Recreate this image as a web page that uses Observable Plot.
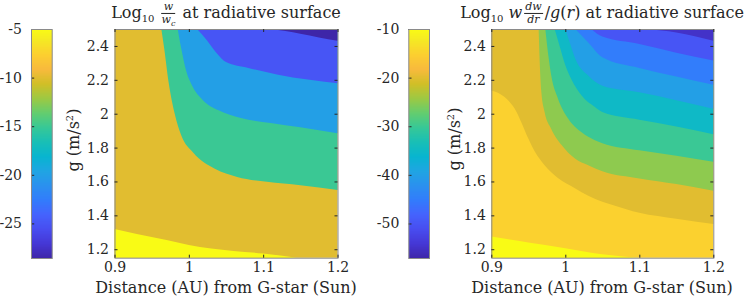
<!DOCTYPE html>
<html><head><meta charset="utf-8">
<script src="https://cdn.jsdelivr.net/npm/d3@7"></script>
<script src="https://cdn.jsdelivr.net/npm/@observablehq/plot@0.6"></script>
<style>
body{margin:0;background:#fff;}
#c{position:relative;width:748px;height:307px;overflow:hidden;font-family:"DejaVu Serif",serif;color:#262626;}
.abs{position:absolute;}
.ctr{transform:translate(-50%,-50%);white-space:nowrap;}
.title{font-size:16px;line-height:1;}
.lbl{font-size:16px;line-height:1;}
.rot{transform:translate(-50%,-50%) rotate(-90deg);white-space:nowrap;}
.frac{display:inline-flex;flex-direction:column;vertical-align:middle;font-size:11px;font-style:italic;text-align:center;line-height:1.05;margin:0 2px;}
.frac .n{border-bottom:0.7px solid #262626;padding:0 1px;}
sub,sup{font-size:10px;line-height:0;}
</style></head>
<body><div id="c"></div>
<script>
// ---- axes ----
const xDomain = [0.9, 1.2];
const yDomain = [1.15, 2.5];
const xTicks = [0.9, 1.0, 1.1, 1.2];
const yTicks = [1.2, 1.4, 1.6, 1.8, 2.0, 2.2, 2.4];
const cbarLeftDomain = [-28.56, -5];
const cbarLeftTicks = [-25, -20, -15, -10, -5];
const cbarRightDomain = [-57.1, -10];
const cbarRightTicks = [-50, -40, -30, -20, -10];

// ---- parula colormap stops (index of 64) ----
const parulaIdx = [0, 4, 8, 12, 16, 20, 24, 28, 32, 36, 40, 44, 48, 52, 56, 60, 63];
const parulaColors = ["#3e26a8","#4537d5","#484df0","#4563fd","#327cfc","#2b91ef","#20a5e3","#08b5d0",
  "#19bfb6","#37c897","#64cd6f","#9dc943","#d1bf27","#f8ba3d","#fccf30","#f5e924","#f9fb15"];

// ---- left panel: log10 w/wc ----
const leftBaseLevel = -10;
const leftBottomLevel = -5;
const leftBottomEdge = [[0.9,1.32],[0.93,1.29],[0.97,1.255],[1.0,1.225],[1.06,1.19],[1.1,1.175],[1.145,1.15]];
const leftLevels = [-15, -20, -25, -30];
const leftEdgeM15 = [[0.963,2.5],[0.967,2.38],[0.973,2.18],[0.981,2.0],[0.99,1.87],[1.006,1.77],[1.035,1.675],[1.065,1.627],[1.105,1.598],[1.15,1.578],[1.2,1.55]];
const leftEdgeM20 = [[0.985,2.5],[0.99,2.38],[0.996,2.26],[1.004,2.17],[1.019,2.08],[1.04,2.02],[1.07,1.975],[1.11,1.945],[1.15,1.92],[1.2,1.885]];
const leftEdgeM25 = [[1.011,2.5],[1.024,2.435],[1.037,2.36],[1.05,2.305],[1.08,2.27],[1.12,2.23],[1.2,2.18]];
const leftEdgeM30 = [[1.105,2.5],[1.13,2.488],[1.15,2.472],[1.175,2.45],[1.2,2.43]];

// ---- right panel: log10 w dw/dr / g(r) ----
const rightBaseLevel = -15;
const rightBottomLevel = -10;
const rightBottomEdge = [[0.9,1.275],[0.95,1.24],[1.0,1.206],[1.047,1.172],[1.096,1.15]];
const rightLevels = [-20, -25, -30, -35, -40, -45, -50, -55];
const rightEdgeM20 = [[0.9,2.137],[0.918,2.098],[0.9315,2.03],[0.9405,1.95],[0.95,1.853],[0.959,1.775],[0.972,1.696],[0.99,1.62],[1.013,1.56],[1.031,1.515],[1.05,1.48],[1.065,1.46],[1.1,1.415],[1.15,1.38],[1.2,1.349]];
const rightEdgeM25 = [[0.964,2.5],[0.9653,2.32],[0.9676,2.13],[0.972,2.01],[0.981,1.91],[0.995,1.815],[1.013,1.735],[1.031,1.695],[1.05,1.66],[1.1,1.618],[1.15,1.585],[1.2,1.545]];
const rightEdgeM30 = [[0.973,2.5],[0.9766,2.36],[0.981,2.225],[0.99,2.09],[1.004,1.97],[1.022,1.89],[1.04,1.843],[1.05,1.826],[1.1,1.784],[1.15,1.752],[1.2,1.716]];
const rightEdgeM35 = [[0.9856,2.5],[0.9923,2.40],[0.999,2.30],[1.008,2.205],[1.022,2.108],[1.04,2.04],[1.05,2.01],[1.1,1.965],[1.15,1.925],[1.2,1.878]];
const rightEdgeM40 = [[1.0,2.5],[1.006,2.42],[1.0135,2.325],[1.031,2.225],[1.05,2.165],[1.1,2.127],[1.15,2.08],[1.2,2.029]];
const rightEdgeM45 = [[1.0135,2.5],[1.031,2.42],[1.05,2.333],[1.1,2.27],[1.15,2.22],[1.2,2.171]];
const rightEdgeM50 = [[1.035,2.5],[1.05,2.455],[1.1,2.412],[1.15,2.36],[1.2,2.314]];
const rightEdgeM55 = [[1.11,2.5],[1.15,2.48],[1.2,2.43]];

// ---- helpers ----
const parulaScale = d3.scaleLinear().domain(parulaIdx.map(i => i / 63)).range(parulaColors).interpolate(d3.interpolateRgb);
const parula = t => parulaScale(Math.max(0, Math.min(1, t)));
const INK = "#262626", BOX = "#8a8a8a";
const fmt = d => String(d);
const rows = (edge, level) => edge.map(([x, y]) => ({x, y, level}));

function colorbar(domain, ticks, left, ml) {
  const H = 307, mt = 29, mb = 49, W = 60, mr = W - ml - 20.7;
  const svg = Plot.plot({
    width: W, height: H, marginLeft: ml, marginRight: mr, marginTop: mt, marginBottom: mb,
    style: {fontFamily: "DejaVu Serif", fontSize: "14px", color: INK, background: "transparent", overflow: "visible"},
    x: {domain: [0, 1], axis: null},
    y: {domain, axis: null},
    color: {type: "linear", domain, interpolate: parula, clamp: true},
    marks: [
      Plot.raster({x1: 0, x2: 1, y1: domain[0], y2: domain[1], width: 1, height: 300, fill: (x, y) => y, imageRendering: "auto"}),
      Plot.ruleY(ticks, {y: d => d, insetRight: 17.5, stroke: INK, strokeWidth: 1}),
      Plot.frame({stroke: BOX}),
      Plot.axisY(ticks, {tickSize: 0, tickPadding: 9.5, tickFormat: fmt, label: null, fill: INK, fontSize: 14})
    ]
  });
  svg.style.position = "absolute"; svg.style.left = left + "px"; svg.style.top = "0px";
  return svg;
}

function panel(domain, baseLevel, bottomLevel, bottomEdge, levels, edges, left, ml, mr) {
  const H = 307, mt = 29, mb = 49.3, W = 290;
  const innerH = H - mt - mb, innerW = W - ml - mr;
  const base = rows([[xDomain[0], yDomain[0]], [xDomain[1], yDomain[0]]], baseLevel);
  const marks = [
    Plot.areaY(base, {x: "x", y1: "y", y2: yDomain[1], fill: "level"}),
    Plot.areaY(rows(bottomEdge, bottomLevel), {x: "x", y1: yDomain[0], y2: "y", fill: "level", curve: "monotone-x"})
  ];
  edges.forEach((e, i) => {
    marks.push(Plot.areaY(rows(e, levels[i]), {x: "x", y1: "y", y2: yDomain[1], fill: "level", curve: "monotone-x"}));
  });
  marks.push(
    Plot.frame({stroke: BOX}),
    Plot.ruleX(xTicks, {x: d => d, insetTop: innerH - 3, stroke: INK}),
    Plot.ruleX(xTicks, {x: d => d, insetBottom: innerH - 3, stroke: INK}),
    Plot.ruleY(yTicks, {y: d => d, insetRight: innerW - 3, stroke: INK}),
    Plot.ruleY(yTicks, {y: d => d, insetLeft: innerW - 3, stroke: INK}),
    Plot.axisX(xTicks, {tickSize: 0, tickPadding: 4, tickFormat: fmt, label: null, fill: INK, fontSize: 14}),
    Plot.axisY(yTicks, {tickSize: 0, tickPadding: 6, tickFormat: fmt, label: null, fill: INK, fontSize: 14})
  );
  const svg = Plot.plot({
    width: W, height: H, marginLeft: ml, marginRight: mr, marginTop: mt, marginBottom: mb,
    style: {fontFamily: "DejaVu Serif", fontSize: "14px", color: INK, background: "transparent", overflow: "visible"},
    x: {domain: xDomain},
    y: {domain: yDomain},
    color: {type: "linear", domain, interpolate: parula, clamp: true},
    marks
  });
  svg.style.position = "absolute"; svg.style.left = left + "px"; svg.style.top = "0px";
  return svg;
}

const root = document.getElementById("c");
root.appendChild(colorbar(cbarLeftDomain, cbarLeftTicks, 0, 31));
root.appendChild(panel(cbarLeftDomain, leftBaseLevel, leftBottomLevel, leftBottomEdge, leftLevels,
  [leftEdgeM15, leftEdgeM20, leftEdgeM25, leftEdgeM30], 60, 54.5, 12.5));
root.appendChild(colorbar(cbarRightDomain, cbarRightTicks, 374, 34.3));
root.appendChild(panel(cbarRightDomain, rightBaseLevel, rightBottomLevel, rightBottomEdge, rightLevels,
  [rightEdgeM20, rightEdgeM25, rightEdgeM30, rightEdgeM35, rightEdgeM40, rightEdgeM45, rightEdgeM50, rightEdgeM55], 434, 57.3, 10.7));

function addText(html, x, y, cls) {
  const d = document.createElement("div");
  d.className = "abs " + cls;
  d.style.left = x + "px"; d.style.top = y + "px";
  d.innerHTML = html;
  root.appendChild(d);
}
addText('Log<sub>10</sub> <span class="frac"><span class="n">w</span><span>w<sub style="font-size:8px">c</sub></span></span> at radiative surface', 226, 13, "ctr title");
addText('Log<sub>10</sub> <i>w</i><span class="frac"><span class="n">dw</span><span>dr</span></span>/<i>g</i>(<i>r</i>) at radiative surface', 602, 13, "ctr title");
addText('Distance (AU) from G-star (Sun)', 226, 288, "ctr lbl");
addText('Distance (AU) from G-star (Sun)', 602, 288, "ctr lbl");
addText('g (m/s<sup>2</sup>)', 74, 140, "rot lbl");
addText('g (m/s<sup>2</sup>)', 454.5, 139, "rot lbl");
</script>
</body></html>
